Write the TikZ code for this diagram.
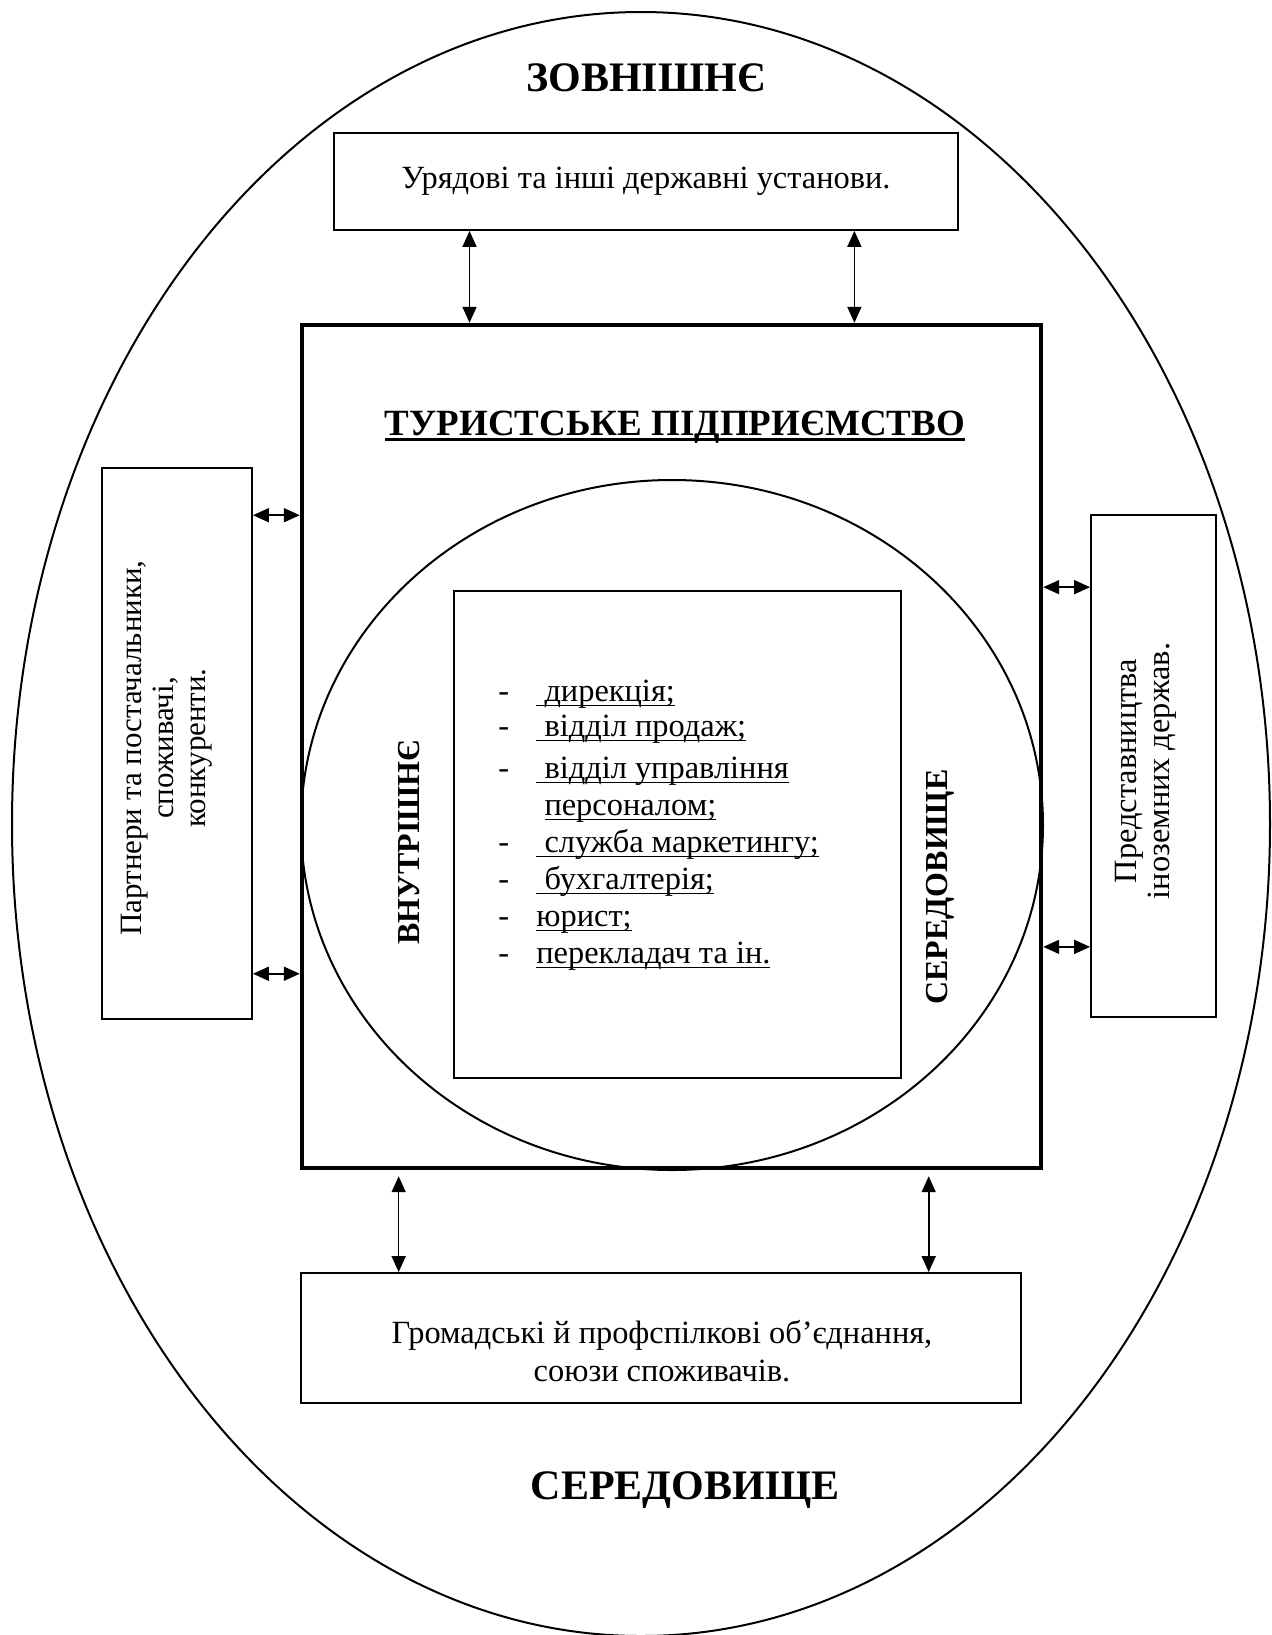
\documentclass[tikz,border=0pt]{standalone}
\usepackage{fontspec}
\setmainfont{Liberation Serif}
\usetikzlibrary{shapes.geometric,arrows.meta,calc}

% underline at a fixed depth below the baseline
\newcommand{\undl}[2][0.7pt]{\setbox0=\hbox{#2}\rlap{\rule[-2.6pt]{\wd0}{#1}}\box0}

\begin{document}
\begin{tikzpicture}[x=0.5pt,y=-0.5pt,
  box/.style={draw, line width=0.9pt, inner sep=0pt},
  oval/.style={draw, ellipse, line width=1pt, inner sep=0pt},
  link/.style={{Triangle[length=8pt,width=7pt]}-{Triangle[length=8pt,width=7pt]}, line width=0.8pt},
  body/.style={font=\fontsize{16.2}{19}\selectfont},
  side/.style={align=center, rotate=90, inner sep=0pt},
  headline/.style={font=\fontsize{21}{25}\selectfont\bfseries},
  vlabel/.style={font=\fontsize{16}{19}\selectfont\bfseries, rotate=90},
  entry/.style={body, anchor=base west, inner sep=0pt}]
\useasboundingbox (0,0) rectangle (1272,1635);

% outer environment
\node[oval, minimum width=629pt, minimum height=812pt] (env) at (641,824) {};
\node[headline] (extname) at (646,78) {ЗОВНІШНЄ};
\node[headline] (envname) at (685,1490) {СЕРЕДОВИЩЕ};

% government bodies
\node[box, body, minimum width=312pt, minimum height=48.5pt] (gov) at (646,181.5)
  {Урядові та інші державні установи.};

% the enterprise
\node[draw, line width=2.2pt, inner sep=0pt, minimum width=369.5pt, minimum height=421.5pt] (firm) at (671.5,746.5) {};
\node[font=\fontsize{18.5}{22}\selectfont\bfseries] (firmname) at (675,427)
  {\undl[1.2pt]{ТУРИСТСЬКЕ ПІДПРИЄМСТВО}};

% internal environment
\node[oval, minimum width=371pt, minimum height=345pt] (core) at (672,825) {};
\node[vlabel] (inword) at (409,842) {ВНУТРІШНЄ};
\node[vlabel] (inenv) at (940,887) {СЕРЕДОВИЩЕ};

% departments
\node[box, minimum width=223.5pt, minimum height=243.5pt] (units) at (677.5,834.5) {};
\node[entry] (u1) at (498,701) {\makebox[19pt][l]{-}\undl{\ дирекція;}};
\node[entry] (u2) at (498,736) {\makebox[19pt][l]{-}\undl{\ відділ продаж;}};
\node[entry] (u3) at (498,778) {\makebox[19pt][l]{-}\undl{\ відділ управління}};
\node[entry] (u4) at (498,815) {\makebox[19pt][l]{}\ \undl{персоналом;}};
\node[entry] (u5) at (498,852) {\makebox[19pt][l]{-}\undl{\ служба маркетингу;}};
\node[entry] (u6) at (498,889) {\makebox[19pt][l]{-}\undl{\ бухгалтерія;}};
\node[entry] (u7) at (498,926) {\makebox[19pt][l]{-}\undl{юрист;}};
\node[entry] (u8) at (498,963) {\makebox[19pt][l]{-}\undl{перекладач та ін.}};

% partners
\node[box, minimum width=75pt, minimum height=275.5pt] (partners) at (177,743.5) {};
\node[side, font=\fontsize{15.5}{16}\selectfont] (partnerstext) at (167,748)
  {Партнери та постачальники,\\ споживачі,\\ конкуренти.};

% foreign representations
\node[box, minimum width=62.5pt, minimum height=251pt] (embassy) at (1153.5,766) {};
\node[side, font=\fontsize{16.2}{16.5}\selectfont] (embassytext) at (1146,771)
  {Представництва\\ іноземних держав.};

% public associations
\node[box, minimum width=360pt, minimum height=65pt] (unions) at (661,1338) {};
\node[align=center, font=\fontsize{16.2}{18.9}\selectfont] (unionstext) at (662,1351)
  {Громадські й профспілкові об’єднання,\\ союзи споживачів.};

% links with the enterprise
\draw[link] ($(gov.south west)!0.218!(gov.south east)$) coordinate (t1) -- (t1 |- firm.north);
\draw[link] ($(gov.south west)!0.833!(gov.south east)$) coordinate (t2) -- (t2 |- firm.north);

\coordinate (b1) at ($(firm.south west)!0.133!(firm.south east)$);
\coordinate (b2) at ($(firm.south west)!0.846!(firm.south east)$);
\draw[link, shorten <=3pt] (b1) -- (b1 |- unions.north);
\draw[link, shorten <=3pt] (b2) -- (b2 |- unions.north);

\coordinate (l1) at ($(partners.north east)!0.087!(partners.south east)$);
\coordinate (l2) at ($(partners.north east)!0.9165!(partners.south east)$);
\draw[link] (l1) -- (l1 -| firm.west);
\draw[link] (l2) -- (l2 -| firm.west);

\coordinate (r1) at ($(embassy.north west)!0.145!(embassy.south west)$);
\coordinate (r2) at ($(embassy.north west)!0.859!(embassy.south west)$);
\draw[link] (r1) -- (r1 -| firm.east);
\draw[link] (r2) -- (r2 -| firm.east);
\end{tikzpicture}
\end{document}
